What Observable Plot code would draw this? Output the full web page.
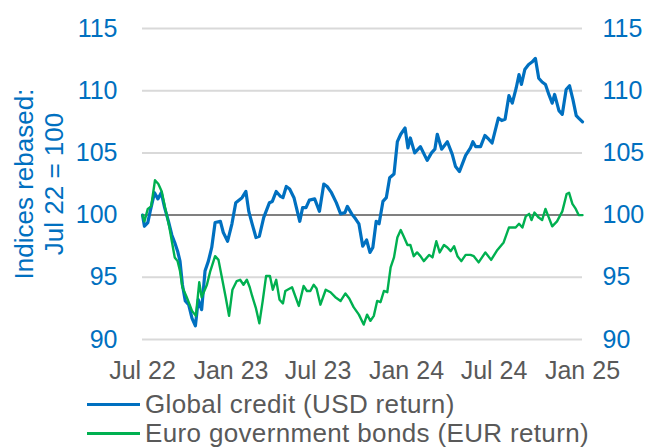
<!DOCTYPE html>
<html>
<head>
<meta charset="utf-8">
<script src="https://cdn.jsdelivr.net/npm/d3@7"></script>
<script src="https://cdn.jsdelivr.net/npm/@observablehq/plot@0.6"></script>
<style>
  html, body { margin: 0; padding: 0; background: #fff; }
  #wrap { width: 651px; height: 447px; overflow: hidden; font-family: "Liberation Sans", Arial, sans-serif; }
  .legend-row { display: flex; align-items: center; height: 29px; font-size: 26px; color: #595959; white-space: nowrap; letter-spacing: 0.35px; }
  .legend-swatch { margin-left: 87px; width: 53px; margin-right: 5px; }
</style>
</head>
<body>
<div id="wrap"></div>
<script>
const seriesNames = ["Global credit (USD return)", "Euro government bonds (EUR return)"];
const seriesColors = ["#0070C0", "#00B050"];
const yTicks = [90, 95, 100, 105, 110, 115];
const xTickDates = ["2022-07-01", "2023-01-01", "2023-07-01", "2024-01-01", "2024-07-01", "2025-01-01"];
const xTickLabels = ["Jul 22", "Jan 23", "Jul 23", "Jan 24", "Jul 24", "Jan 25"];
const yTitle = ["Indices rebased:", "Jul 22 = 100"];
const baseline = 100;

const creditDates = [
  "2022-07-01","2022-07-05","2022-07-12","2022-07-17","2022-07-26","2022-08-02","2022-08-09","2022-08-16","2022-08-24","2022-08-31",
  "2022-09-06","2022-09-12","2022-09-17","2022-09-22","2022-09-28","2022-10-05","2022-10-12","2022-10-19","2022-10-25","2022-11-01",
  "2022-11-08","2022-11-15","2022-11-22","2022-11-29","2022-12-10","2022-12-16","2022-12-25","2023-01-03","2023-01-11","2023-01-24",
  "2023-02-01","2023-02-07","2023-02-14","2023-02-22","2023-03-01","2023-03-10","2023-03-22","2023-03-28","2023-04-05","2023-04-14",
  "2023-04-19","2023-04-26","2023-05-03","2023-05-12","2023-05-24","2023-05-30","2023-06-06","2023-06-13","2023-06-24","2023-07-04",
  "2023-07-13","2023-07-20","2023-07-29","2023-08-08","2023-08-17","2023-08-26","2023-08-31","2023-09-09","2023-09-17","2023-09-24",
  "2023-10-02","2023-10-10","2023-10-17","2023-10-23","2023-10-30","2023-11-05","2023-11-13","2023-11-20","2023-11-27","2023-12-06",
  "2023-12-13","2023-12-20","2023-12-29","2024-01-04","2024-01-09","2024-01-18","2024-01-30","2024-02-13","2024-02-22","2024-02-29",
  "2024-03-05","2024-03-14","2024-03-26","2024-04-05","2024-04-12","2024-04-20","2024-05-03","2024-05-13","2024-05-18","2024-05-24",
  "2024-06-03","2024-06-12","2024-06-20","2024-06-27","2024-07-10","2024-07-17","2024-07-24","2024-08-01","2024-08-08","2024-08-16",
  "2024-08-22","2024-08-27","2024-09-03","2024-09-11","2024-09-18","2024-09-25","2024-10-02","2024-10-09","2024-10-16","2024-10-23",
  "2024-10-30","2024-11-04","2024-11-13","2024-11-20","2024-11-28","2024-12-05","2024-12-12","2024-12-19","2024-12-24","2025-01-01"
];
const creditValues = [
  100.0, 99.1, 99.4, 100.3, 101.8, 101.3, 101.8, 100.6, 99.5, 98.4,
  97.8, 97.1, 96.3, 94.4, 93.1, 92.8, 91.7, 91.1, 93.2, 92.4,
  95.5, 96.3, 97.4, 99.4, 99.5, 98.6, 97.9, 99.3, 101.0, 101.4,
  101.9, 100.3, 99.3, 98.2, 98.3, 99.8, 101.0, 101.1, 101.9, 101.5,
  101.4, 102.3, 102.1, 101.4, 99.5, 100.6, 100.6, 101.2, 101.3, 100.3,
  102.5, 102.3, 101.8, 101.0, 100.1, 100.2, 100.7, 100.1, 99.7, 99.3,
  97.5, 98.0, 97.0, 97.4, 99.5, 99.3, 101.1, 101.4, 103.0, 103.3,
  105.9, 106.5, 107.0, 105.4, 106.2, 105.0, 105.5, 104.4, 105.0, 105.3,
  106.5, 105.3, 105.9, 104.9, 103.9, 103.5, 104.8, 105.4, 105.9, 105.5,
  105.5, 106.4, 106.1, 105.8, 107.8, 107.6, 107.7, 109.6, 109.0, 110.2,
  111.3, 110.5, 111.7, 112.1, 112.3, 112.6, 111.0, 110.7, 110.5, 109.7,
  109.0, 109.7, 108.4, 108.1, 110.1, 110.4, 109.3, 108.0, 107.8, 107.5
];

const euroDates = [
  "2022-07-01","2022-07-05","2022-07-12","2022-07-19","2022-07-27","2022-08-03","2022-08-10","2022-08-17","2022-08-26","2022-08-31",
  "2022-09-06","2022-09-12","2022-09-17","2022-09-22","2022-10-01","2022-10-12","2022-10-20","2022-10-27","2022-11-01","2022-11-12",
  "2022-11-19","2022-11-29","2022-12-06","2022-12-14","2022-12-21","2022-12-28","2023-01-04","2023-01-13","2023-01-20","2023-01-27",
  "2023-02-03","2023-02-09","2023-02-14","2023-02-22","2023-03-01","2023-03-08","2023-03-15","2023-03-23","2023-03-29","2023-04-05",
  "2023-04-12","2023-04-19","2023-04-24","2023-05-08","2023-05-22","2023-06-01","2023-06-08","2023-06-15","2023-06-22","2023-06-28",
  "2023-07-06","2023-07-17","2023-07-27","2023-08-06","2023-08-17","2023-08-27","2023-09-04","2023-09-13","2023-09-24","2023-10-04",
  "2023-10-11","2023-10-18","2023-10-25","2023-11-01","2023-11-08","2023-11-15","2023-11-22","2023-11-29","2023-12-06","2023-12-13",
  "2023-12-20","2023-12-26","2024-01-03","2024-01-09","2024-01-16","2024-01-23","2024-01-30","2024-02-06","2024-02-17","2024-02-24",
  "2024-03-03","2024-03-10","2024-03-19","2024-03-26","2024-04-02","2024-04-09","2024-04-16","2024-04-24","2024-05-03","2024-05-13",
  "2024-05-20","2024-05-30","2024-06-13","2024-06-25","2024-07-08","2024-07-21","2024-08-01","2024-08-15","2024-08-22","2024-08-29",
  "2024-09-05","2024-09-12","2024-09-17","2024-09-23","2024-10-02","2024-10-09","2024-10-16","2024-10-23","2024-10-30","2024-11-09",
  "2024-11-20","2024-11-29","2024-12-04","2024-12-11","2024-12-18","2024-12-24","2025-01-01"
];
const euroValues = [
  100.0, 99.5, 100.5, 100.7, 102.8, 102.5, 101.9, 100.6, 99.0, 97.9,
  96.6, 96.3, 95.5, 94.2, 93.4, 92.3, 91.9, 94.6, 93.4, 94.4,
  95.5, 96.7, 96.4, 94.8, 93.4, 91.9, 94.0, 94.7, 94.8, 94.4,
  94.8, 94.2, 93.5, 92.5, 91.3, 93.1, 95.1, 95.1, 94.0, 94.8,
  93.2, 92.9, 93.9, 94.2, 92.7, 94.3, 93.9, 93.9, 94.4, 94.1,
  92.8, 94.0, 93.8, 93.4, 93.1, 93.7, 93.3, 92.6, 92.0, 91.2,
  92.0, 91.5, 91.9, 93.1, 93.0, 93.9, 93.8, 95.8, 96.6, 98.2,
  98.8, 98.3, 97.6, 97.6, 96.7, 97.0, 96.7, 96.3, 96.8, 96.6,
  97.9, 97.0, 97.6, 97.4, 97.1, 97.5, 96.7, 96.3, 96.8, 96.8,
  96.7, 96.2, 97.0, 96.4, 97.2, 97.8, 99.0, 99.0, 99.3, 99.0,
  99.9, 100.1, 99.6, 100.2, 99.8, 99.6, 100.5, 99.8, 99.1, 99.5,
  100.3, 101.7, 101.8, 100.9, 100.5, 100.0, 100.0
];

const parse = d3.utcParse("%Y-%m-%d");
const credit = creditDates.map((d, i) => ({date: parse(d), value: creditValues[i]}));
const euro = euroDates.map((d, i) => ({date: parse(d), value: euroValues[i]}));
const tickDates = xTickDates.map(parse);
const labelOf = new Map(tickDates.map((d, i) => [+d, xTickLabels[i]]));

const chart = Plot.plot({
  width: 651,
  height: 390,
  marginLeft: 142,
  marginRight: 69,
  marginTop: 28,
  marginBottom: 51,
  style: {fontFamily: "'Liberation Sans', Arial, sans-serif", fontSize: "25px", background: "#fff", overflow: "visible"},
  x: {type: "utc", domain: [tickDates[0], tickDates[tickDates.length - 1]]},
  y: {domain: [yTicks[0], yTicks[yTicks.length - 1]]},
  marks: [
    Plot.gridY(yTicks, {stroke: "#d9d9d9", strokeOpacity: 1, strokeWidth: 2}),
    Plot.ruleY([baseline], {stroke: "#808080", strokeWidth: 2}),
    Plot.line(credit, {x: "date", y: "value", stroke: seriesColors[0], strokeWidth: 3.2, strokeLinejoin: "round"}),
    Plot.line(euro, {x: "date", y: "value", stroke: seriesColors[1], strokeWidth: 2.4, strokeLinejoin: "round"}),
    Plot.axisY(yTicks, {anchor: "left", tickSize: 0, tickPadding: 25, fill: seriesColors[0], fontSize: 25, label: null}),
    Plot.axisY(yTicks, {anchor: "right", tickSize: 0, tickPadding: 20, fill: seriesColors[0], fontSize: 25, label: null}),
    Plot.axisX(tickDates, {anchor: "bottom", tickSize: 0, tickPadding: 22, fill: "#595959", fontSize: 25, label: null,
      tickFormat: d => labelOf.get(+d)}),
    Plot.text([yTitle.join("\n")], {frameAnchor: "left", dx: -104, rotate: -90, fill: seriesColors[0], fontSize: 26,
      lineHeight: 1.15, textAnchor: "middle", lineAnchor: "middle"})
  ]
});

const wrap = document.getElementById("wrap");
wrap.appendChild(chart);
const legend = document.createElement("div");
seriesNames.forEach((name, i) => {
  const row = document.createElement("div");
  row.className = "legend-row";
  const sw = document.createElement("span");
  sw.className = "legend-swatch";
  sw.style.height = "3px";
  sw.style.background = seriesColors[i];
  const tx = document.createElement("span");
  tx.textContent = name;
  row.appendChild(sw);
  row.appendChild(tx);
  legend.appendChild(row);
});
wrap.appendChild(legend);
</script>
</body>
</html>
